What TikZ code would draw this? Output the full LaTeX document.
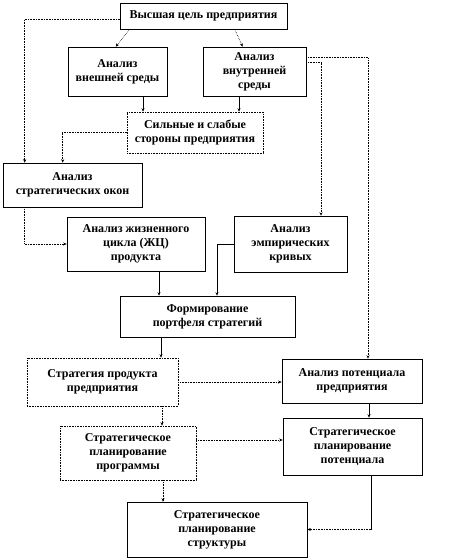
\documentclass[tikz,border=0pt]{standalone}
\usepackage{fontspec}
\setmainfont{Liberation Serif}
\usetikzlibrary{
	arrows.meta
}

\begin{document}
\begin{tikzpicture}[x=1pt, y=-1pt,
  blok/.style={rectangle, draw, line width=0.6pt, align=center, inner sep=1pt,
    font=\fontsize{12}{14}\selectfont\bfseries},
  tochki/.style={blok, densely dotted},
  strelka/.style={-{Stealth[length=3.5pt, width=3pt]}, line width=0.6pt},
  punktir/.style={strelka, densely dotted}
]
\useasboundingbox (0,0) rectangle (454,560);
\node[blok, minimum width=167pt, minimum height=26pt] (cel) at (203.5,16) {Высшая цель предприятия};
\node[blok, minimum width=99pt, minimum height=49pt] (vnesh) at (117.5,71.5) {Анализ\\внешней среды};
\node[blok, minimum width=103pt, minimum height=49pt] (vnutr) at (254.5,71.5) {Анализ\\внутренней\\среды};
\node[tochki, minimum width=136pt, minimum height=41pt] (sily) at (195,132.5) {Сильные и слабые\\стороны предприятия};
\node[blok, minimum width=139pt, minimum height=44pt] (okna) at (72.5,185) {Анализ\\стратегических  окон};
\node[blok, minimum width=138pt, minimum height=54pt] (zhc) at (136,244) {Анализ жизненного\\цикла (ЖЦ)\\продукта};
\node[blok, minimum width=113pt, minimum height=56pt] (krivye) at (290.5,244) {Анализ\\эмпирических\\кривых};
\node[blok, minimum width=175pt, minimum height=41pt] (portfel) at (207.5,316.5) {Формирование\\портфеля стратегий};
\node[tochki, minimum width=151pt, minimum height=48pt] (strateg) at (102.5,382) {Стратегия продукта\\предприятия};
\node[blok, minimum width=140pt, minimum height=44pt] (potenc) at (352,381) {Анализ потенциала\\предприятия};
\node[tochki, minimum width=136pt, minimum height=54pt] (progr) at (128,453) {Стратегическое\\планирование\\программы};
\node[blok, minimum width=139pt, minimum height=57pt] (planpot) at (352.5,446.5) {Стратегическое\\планирование\\потенциала};
\node[blok, minimum width=180pt, minimum height=55pt] (struktura) at (217,529.5) {Стратегическое\\планирование\\структуры};

\draw[punktir] ([xshift=10pt]cel.south west) -- ([xshift=48pt]vnesh.north west);
\draw[punktir] ([xshift=115pt]cel.south west) -- ([xshift=40pt]vnutr.north west);
\draw[punktir] ([yshift=-3pt]cel.west) -| ([xshift=22pt]okna.north west);
\draw[strelka] ([xshift=25.5pt]vnesh.south) -- ([xshift=25.5pt]vnesh.south |- sily.north);
\draw[strelka] ([xshift=-15.5pt]vnutr.south) -- ([xshift=-15.5pt]vnutr.south |- sily.north);
\draw[punktir] (sily.west) -| ([xshift=60pt]okna.north west);
\draw[punktir] ([yshift=-11pt]vnutr.north east) -| ([xshift=16pt]potenc.north);
\draw[punktir] ([yshift=-16pt]vnutr.north east) -| ([xshift=30.5pt]krivye.north);
\draw[punktir] ([xshift=22pt]okna.south west) |- (zhc.west);
\draw[strelka] ([xshift=23pt]zhc.south) -- ([xshift=23pt]zhc.south |- portfel.north);
\draw[strelka] (krivye.west) -| ([xshift=9.5pt]portfel.north);
\draw[strelka] ([xshift=-46.5pt]portfel.south) -- ([xshift=-46.5pt]portfel.south |- strateg.north);
\draw[punktir] (strateg.east) -- (strateg.east -| potenc.west);
\draw[punktir] ([xshift=59.5pt]strateg.south) -- ([xshift=59.5pt]strateg.south |- progr.north);
\draw[strelka] ([xshift=17pt]potenc.south) -- ([xshift=17pt]potenc.south |- planpot.north);
\draw[punktir] ([yshift=13pt]progr.east) -- ([yshift=13pt]progr.east -| planpot.west);
\draw[punktir] ([xshift=35pt]progr.south) -- ([xshift=35pt]progr.south |- struktura.north);
\coordinate (ugol) at ([xshift=18.5pt]planpot.south |- struktura.east);
\draw[line width=0.6pt] ([xshift=18.5pt]planpot.south) -- (ugol);
\draw[punktir] (ugol) -- (struktura.east);
\end{tikzpicture}
\end{document}
